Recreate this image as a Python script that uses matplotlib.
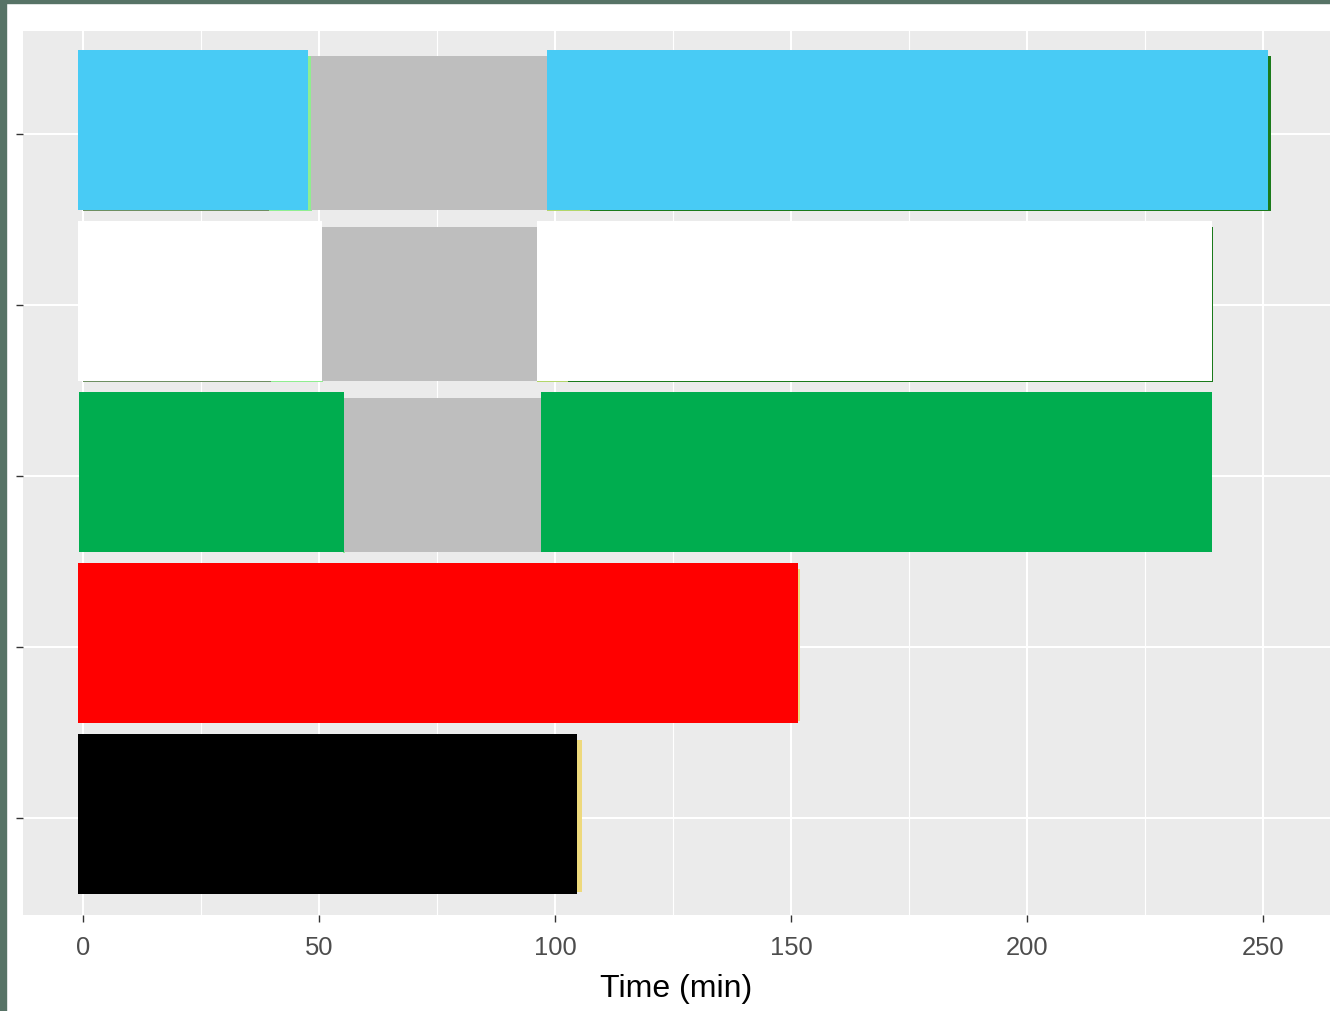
import matplotlib
matplotlib.use("Agg")
import matplotlib.pyplot as plt
from matplotlib.patches import Rectangle

plt.rcParams['font.family'] = ['Liberation Sans', 'DejaVu Sans']

# ---- data ----
rows = [1, 2, 3, 4, 5]                     # category positions (labels cropped off in the source)
row_labels = ["", "", "", "", ""]
x_ticks = [0, 50, 100, 150, 200, 250]
x_label = "Time (min)"

# top layer segments: (row, start, end, colour)
top_rows   = [1, 2, 3, 3, 3, 4, 4, 4, 5, 5, 5]
top_starts = [-1.1, -1.1, -0.9, 55.3, 97.0, -1.1, 50.6, 96.2, -1.1, 48.3, 98.3]
top_ends   = [104.7, 151.5, 55.3, 97.0, 239.2, 50.6, 96.2, 239.2, 47.7, 98.3, 251.1]
top_colors = ["#000000", "#FF0000", "#00AD4F", "#BEBEBE", "#00AD4F",
              "#FFFFFF", "#BEBEBE", "#FFFFFF", "#48CBF5", "#BEBEBE", "#48CBF5"]

# underlying layer segments (peeking out at the edges)
under_rows   = [1, 2, 3, 4, 4, 4, 4, 5, 5, 5, 5]
under_starts = [-1.1, -1.1, 55.0, 0.0, 39.8, 96.2, 102.8, 0.0, 39.4, 98.3, 107.4]
under_ends   = [105.7, 151.9, 55.6, 39.8, 50.9, 102.8, 239.5, 39.4, 48.5, 107.4, 251.7]
under_colors = ["#EED97C", "#EED97C", "#90EE90", "#6E8F62", "#90EE90", "#B3D66A", "#1B7A1B",
                "#6E8F62", "#90EE90", "#B3D66A", "#1B7A1B"]

W, H = 1330, 1011
fig = plt.figure(figsize=(W / 100, H / 100), dpi=100)
fig.patch.set_facecolor("white")

ax = fig.add_axes([23 / W, 1 - 915 / H, 1 - 23 / W, (915 - 31) / H])
ax.set_facecolor("#EBEBEB")
ax.set_xlim(-12.7, 264.2)
ax.set_ylim(0.433, 5.602)

# grid
for v in [25, 75, 125, 175, 225]:
    ax.axvline(v, color="white", lw=0.8, zorder=0.5)
for v in x_ticks:
    ax.axvline(v, color="white", lw=1.5, zorder=0.6)
for r in rows:
    ax.axhline(r, color="white", lw=1.5, zorder=0.6)

MAIN_OFF, MAIN_H = -0.444, 0.936
SUB_OFF, SUB_H = -0.450, 0.906
YEL_OFF, YEL_H = -0.433, 0.889

for r, s, e, c in zip(under_rows, under_starts, under_ends, under_colors):
    off, h = (YEL_OFF, YEL_H) if c == "#EED97C" else (SUB_OFF, SUB_H)
    ax.barh(r + off, e - s, left=s, height=h, align="edge",
            color=c, linewidth=0, zorder=2)

for r, s, e, c in zip(top_rows, top_starts, top_ends, top_colors):
    if c == "#BEBEBE":
        ax.barh(r + SUB_OFF + 0.006, e - s, left=s, height=SUB_H - 0.006, align="edge",
                color=c, linewidth=0, zorder=3)
    else:
        ax.barh(r + MAIN_OFF, e - s, left=s, height=MAIN_H, align="edge",
                color=c, linewidth=0, zorder=4)

ax.set_xticks(x_ticks)
ax.set_xticklabels([str(v) for v in x_ticks], fontsize=18.4, color="#4D4D4D")
ax.set_yticks(rows)
ax.set_yticklabels(row_labels)
ax.tick_params(axis="both", length=5, width=1.0, color="#333333", pad=10)
ax.set_xlabel(x_label, fontsize=23, color="black", labelpad=10)
for sp in ax.spines.values():
    sp.set_visible(False)

# dark frame strips from the screenshot
fig.patches.append(Rectangle((0, 0), 6 / W, 1, transform=fig.transFigure,
                             color="#577366", zorder=10))
fig.patches.append(Rectangle((0, 1 - 3 / H), 1, 3 / H, transform=fig.transFigure,
                             color="#577366", zorder=10))

fig.savefig("out.png", dpi=100)
